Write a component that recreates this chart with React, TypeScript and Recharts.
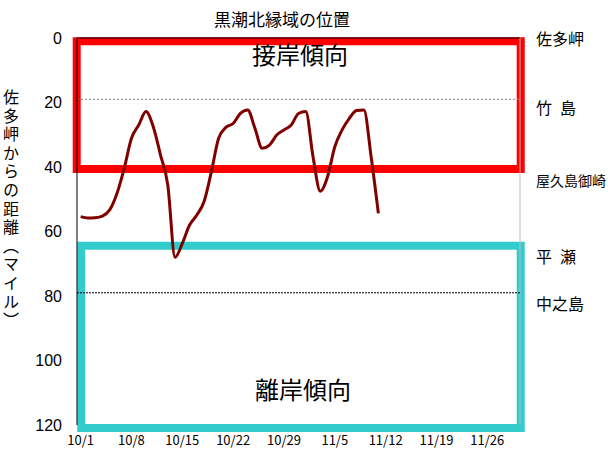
import { LineChart, Line, XAxis, YAxis, ReferenceLine, ReferenceArea } from "recharts";

// 佐多岬からの距離（マイル）, daily from 10/1
const miles = [
  55.4, 55.8, 55.7, 55.2, 53.3, 48.2, 40.4, 31.1, 27, 22.8,
  27.5, 36.3, 45.6, 68, 63.7, 58, 54.9, 50.7, 41.5, 31.1,
  27.7, 26.5, 23.4, 22.3, 28, 34.2, 33.2, 30.1, 28.5, 27,
  23.4, 22.8, 36.8, 47.5, 43, 33.7, 28.5, 24.9, 22.5, 22.3,
  36.8, 54.4,
];
const tickDays = [0, 7, 14, 21, 28, 35, 42, 49, 56];
const tickLabels = ["10/1", "10/8", "10/15", "10/22", "10/29", "11/5", "11/12", "11/19", "11/26"];
const mileTicks = [0, 20, 40, 60, 80, 100, 120];

// landmark names on the right and the mile value their label sits at
const landmarkNames = ["佐多岬", "竹\u2002島", "屋久島御崎", "平\u2002瀬", "中之島"];
const landmarkLabelMiles = [0.5, 21.8, 44.5, 68.1, 82.5];
const landmarkFontSizes = [16, 16, 14, 16, 16];
// dotted guide lines (竹島, 中之島)
const guideMiles = [19, 79];

// trend boxes: [day from, day to, miles from, miles to]
const nearBox = [-0.54, 60.6, 1, 40.6];
const offBox = [0.08, 60.6, 64.4, 120.9];

const rows = miles.map((m, i) => ({ day: i, miles: m }));

const cjk = '"Noto Sans CJK JP", "Noto Sans", sans-serif';

export default function App() {
  return (
    <div style={{ position: "absolute", left: 0, top: 0, width: 608, height: 453, background: "#fff", fontFamily: cjk, color: "#000" }}>
      <LineChart width={608} height={453} data={rows} margin={{ top: 38, right: 88, bottom: 0, left: 0 }}>
        <XAxis
          type="number"
          dataKey="day"
          domain={[-0.5, 60.5]}
          ticks={tickDays}
          interval={0}
          tickFormatter={(d) => tickLabels[tickDays.indexOf(d)]}
          axisLine={false}
          tickLine={false}
          tickSize={0}
          tickMargin={11}
          height={28}
          tick={{ fill: "#000", fontSize: 13, fontFamily: cjk }}
          allowDataOverflow
        />
        <YAxis
          type="number"
          reversed
          domain={[0, 120]}
          ticks={mileTicks}
          interval={0}
          width={77}
          axisLine={{ stroke: "#000" }}
          tickLine={false}
          tickSize={0}
          tickMargin={15}
          tick={{ fill: "#000", fontSize: 16, fontFamily: '"Liberation Sans", Arial, sans-serif' }}
          allowDataOverflow
        />
        <ReferenceLine y={0} stroke="#000" />
        <ReferenceLine x={60.5} stroke="#bfbfbf" />
        <ReferenceLine y={guideMiles[0]} stroke="#808080" strokeDasharray="2 2" />
        <ReferenceLine y={guideMiles[1]} stroke="#000" strokeDasharray="2 1" />
        {landmarkNames.map((name, i) => (
          <ReferenceLine
            key={name}
            y={landmarkLabelMiles[i]}
            stroke="none"
            label={{ value: name, position: "right", offset: 16, fill: "#000", fontSize: landmarkFontSizes[i] }}
          />
        ))}
        <ReferenceArea
          x1={nearBox[0]}
          x2={nearBox[1]}
          y1={nearBox[2]}
          y2={nearBox[3]}
          fill="none"
          stroke="#ff0000"
          strokeWidth={8}
          ifOverflow="visible"
        />
        <ReferenceArea
          x1={offBox[0]}
          x2={offBox[1]}
          y1={offBox[2]}
          y2={offBox[3]}
          fill="none"
          stroke="#33cccc"
          strokeWidth={8}
          ifOverflow="visible"
        />
        <Line
          dataKey="miles"
          type="monotone"
          stroke="#800000"
          strokeWidth={3}
          dot={false}
          activeDot={false}
          isAnimationActive={false}
        />
      </LineChart>

      <div style={{ position: "absolute", left: 182, top: 7, width: 200, textAlign: "center", fontSize: 17, lineHeight: "24px" }}>
        黒潮北縁域の位置
      </div>
      <div style={{ position: "absolute", left: 200, top: 38, width: 200, textAlign: "center", fontSize: 24, lineHeight: "32px" }}>
        接岸傾向
      </div>
      <div style={{ position: "absolute", left: 203, top: 373, width: 200, textAlign: "center", fontSize: 24, lineHeight: "32px" }}>
        離岸傾向
      </div>
      <div style={{ position: "absolute", left: 2, top: 89, writingMode: "vertical-rl", fontSize: 16, lineHeight: "18px", letterSpacing: 2.6 }}>
        佐多岬からの距離（マイル）
      </div>
    </div>
  );
}
